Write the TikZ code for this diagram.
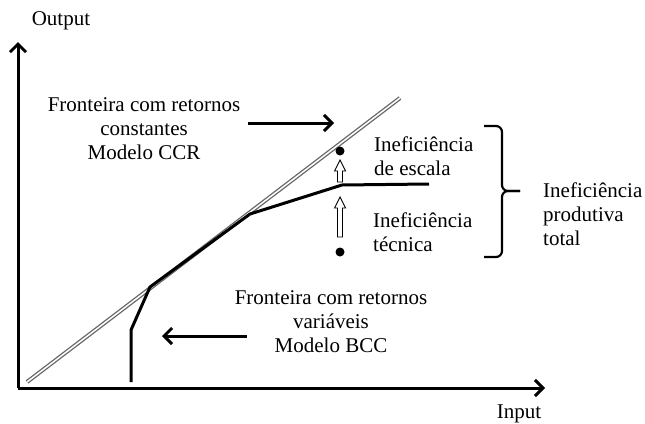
\documentclass[tikz,border=0pt]{standalone}
\usepackage{fontspec}
\setmainfont{Liberation Serif}
\usetikzlibrary{arrows.meta}
\begin{document}
\begin{tikzpicture}[x=1pt,y=-1pt,
  txt/.style={inner sep=0pt,font=\fontsize{21}{24}\selectfont},
  axisline/.style={line width=3pt,-{Straight Barb[length=8pt,width=16pt]}},
  ptr/.style={line width=3pt,-{Straight Barb[length=8pt,width=16pt]}},
  ccr/.style={draw=black!60,double=white,line width=1.3pt,double distance=1.5pt},
  bcc/.style={line width=3pt,line join=round},
  bracepath/.style={line width=2.2pt,rounded corners=6pt},
  dot/.style={circle,fill=black,inner sep=0pt,minimum size=9pt},
  hollow/.style={draw=black,fill=white,line width=0.9pt,line join=miter}]
\useasboundingbox (0,0) rectangle (645,423);
% axes
\coordinate (O) at (18,388);
\coordinate (ytip) at (18,42);
\coordinate (xtip) at (545,388);
\draw[axisline] (O) -- (ytip);
\draw[axisline] (O) -- (xtip);
\node[txt] (out) at (61,21) {Output};
\node[txt] (inp) at (519,414) {Input};
% CCR frontier
\coordinate (c0) at (27,382);
\coordinate (c1) at (400,98);
\draw[ccr] (c0) -- (c1);
% BCC frontier
\coordinate (b0) at (131,382);
\coordinate (b1) at (131,330);
\coordinate (b2) at (150,287);
\coordinate (b3) at (250,214);
\coordinate (b4) at (342,185);
\coordinate (b5) at (429,184);
\draw[bcc] (b0) -- (b1) -- (b2) -- (b3) -- (b4) -- (b5);
% labels
\node[txt,align=center,anchor=north] (lccr) at (144,97) {Fronteira com retornos\\constantes\\Modelo CCR};
\node[txt,align=center,anchor=north] (lbcc) at (331,290) {Fronteira com retornos\\variáveis\\Modelo BCC};
\coordinate (accrS) at (248,123);
\coordinate (accrE) at (334,123);
\draw[ptr] (accrS) -- (accrE);
\coordinate (abccS) at (247,336);
\coordinate (abccE) at (162,336);
\draw[ptr] (abccS) -- (abccE);
% dots
\node[dot] (d1) at (340,151) {};
\node[dot] (d2) at (340,252) {};
% hollow arrows
\draw[hollow] (337.5,182) -- (337.5,171) -- (334.5,171) -- (340,160) -- (345.5,171) -- (342.5,171) -- (342.5,182) -- cycle;
\draw[hollow] (337.5,237) -- (337.5,208) -- (334.5,208) -- (340,197) -- (345.5,208) -- (342.5,208) -- (342.5,237) -- cycle;
\node[txt,align=left,anchor=north west] (lesc) at (374,137) {Ineficiência\\de escala};
\node[txt,align=left,anchor=north west] (ltec) at (373,213) {Ineficiência\\técnica};
% brace
\coordinate (brT) at (484,126);
\coordinate (brB) at (484,257);
\coordinate (brM) at (520,191);
\draw[bracepath] (brT) -- (502,126) -- (502,191) -- (brM);
\draw[bracepath] (brB) -- (502,257) -- (502,191) -- (brM);
\node[txt,align=left,anchor=north west] (ltot) at (543,183) {Ineficiência\\produtiva\\total};
\end{tikzpicture}
\end{document}
